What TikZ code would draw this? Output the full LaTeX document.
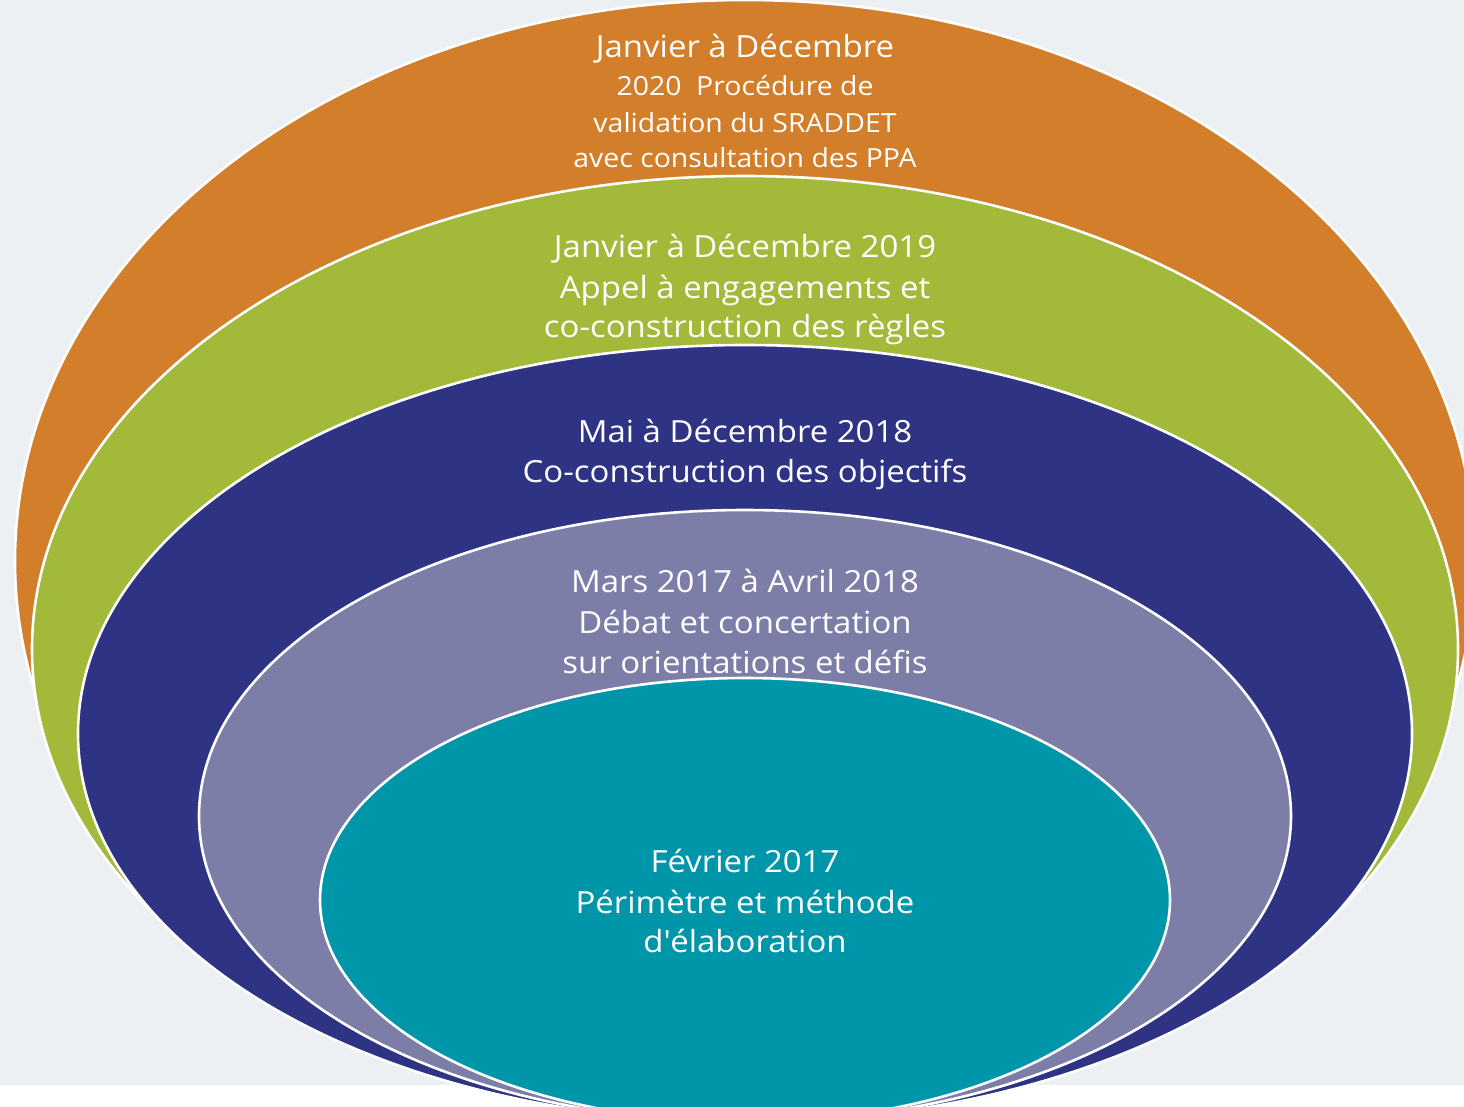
\documentclass[tikz,border=0pt]{standalone}
\usepackage{fontspec}
\setmainfont{Open Sans}[FakeStretch=1.08]
\definecolor{bgray}{HTML}{ECF0F3}
\definecolor{corange}{HTML}{D27E2A}
\definecolor{cgreen}{HTML}{A2B939}
\definecolor{cnavy}{HTML}{2E3383}
\definecolor{clav}{HTML}{7D7EA8}
\definecolor{cteal}{HTML}{0096AA}
\tikzset{
  ring/.style={draw=white, line width=2.6pt},
  lbl/.style={text=white, anchor=base, inner sep=0pt, font=\fontsize{30.5}{36}\selectfont},
  lblsmall/.style={lbl, font=\fontsize{26.3}{32}\selectfont}
}
\begin{document}
\begin{tikzpicture}[x=1pt,y=-1pt]
\useasboundingbox (0,0) rectangle (1464,1106);
\clip (0,0) rectangle (1464,1106);
\fill[bgray] (0,0) rectangle (1464,1085);
\fill[white] (0,1085) rectangle (1464,1106);
% nested ellipses, all tangent near the bottom
\filldraw[ring, fill=corange] (745,561) ellipse [x radius=730pt, y radius=561pt];
\filldraw[ring, fill=cgreen]  (745,649) ellipse [x radius=713pt, y radius=473pt];
\filldraw[ring, fill=cnavy]   (745,733.5) ellipse [x radius=667pt, y radius=388.5pt];
\filldraw[ring, fill=clav]    (745,816) ellipse [x radius=546pt, y radius=306pt];
\filldraw[ring, fill=cteal]   (745,900) ellipse [x radius=425pt, y radius=222pt];
% texts
\node[lbl] (o1) at (745,57) {Janvier à Décembre};
\node[lblsmall] (o2) at (745,95) {2020\ \ Procédure de};
\node[lblsmall] (o3) at (745,132) {validation du SRADDET};
\node[lblsmall] (o4) at (745,167) {avec consultation des PPA};
\node[lbl] (g1) at (745,257) {Janvier à Décembre 2019};
\node[lbl] (g2) at (745,298) {Appel à engagements et};
\node[lbl] (g3) at (745,337) {co-construction des règles};
\node[lbl] (n1) at (745,442) {Mai à Décembre 2018};
\node[lbl] (n2) at (745,482) {Co-construction des objectifs};
\node[lbl] (p1) at (745,592) {Mars 2017 à Avril 2018};
\node[lbl] (p2) at (745,633) {Débat et concertation};
\node[lbl] (p3) at (745,673) {sur orientations et défis};
\node[lbl] (t1) at (745,872) {Février 2017};
\node[lbl] (t2) at (745,913) {Périmètre et méthode};
\node[lbl] (t3) at (745,952) {d\textquotesingle élaboration};
\end{tikzpicture}
\end{document}
